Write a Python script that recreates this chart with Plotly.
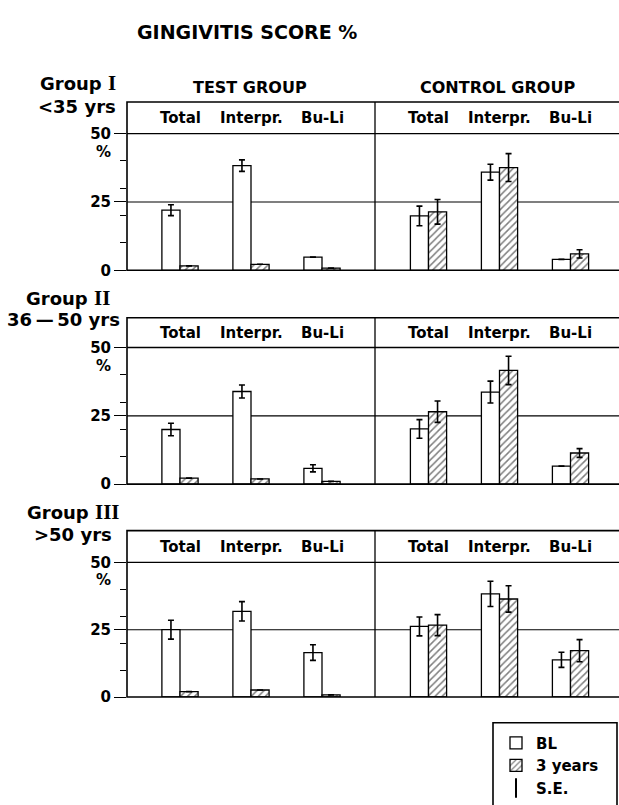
import plotly.graph_objects as go

W, H = 619, 805

# ---------------- data ----------------
categories = ["Total", "Interpr.", "Bu-Li"]
arm_names = ["TEST GROUP", "CONTROL GROUP"]
roman = ["I", "II", "III"]
age_names = ["&lt;35 yrs", "36\u2009\u2014\u200950 yrs", "&gt;50 yrs"]
major_ticks = [0, 25, 50]
minor_ticks = [10, 20, 30, 40]

# order per panel: test Total, test Interpr., test Bu-Li, control Total, control Interpr., control Bu-Li
bl_g1 = [22.0, 38.3, 4.8, 19.9, 35.9, 4.0]
bl_se_g1 = [2.0, 2.1, None, 3.6, 2.9, None]
y3_g1 = [1.6, 2.2, 0.8, 21.4, 37.6, 6.0]
y3_se_g1 = [None, None, None, 4.5, 5.1, 1.5]

bl_g2 = [20.0, 33.9, 5.8, 20.2, 33.7, 6.6]
bl_se_g2 = [2.3, 2.4, 1.3, 3.4, 4.0, None]
y3_g2 = [2.2, 1.9, 1.0, 26.5, 41.6, 11.4]
y3_se_g2 = [None, None, None, 3.9, 5.2, 1.6]

bl_g3 = [25.0, 31.8, 16.5, 26.2, 38.3, 13.8]
bl_se_g3 = [3.5, 3.6, 2.9, 3.5, 4.7, 2.8]
y3_g3 = [2.0, 2.6, 0.8, 26.7, 36.4, 17.2]
y3_se_g3 = [None, None, None, 3.9, 4.9, 4.1]

bl_all = [bl_g1, bl_g2, bl_g3]
bl_se_all = [bl_se_g1, bl_se_g2, bl_se_g3]
y3_all = [y3_g1, y3_g2, y3_g3]
y3_se_all = [y3_se_g1, y3_se_g2, y3_se_g3]

# ---------------- layout geometry (pixels) ----------------
panel_px = [(103, 135, 273), (321, 351, 489), (536, 568, 704)]  # box top, 50-line, 0-line
x_left_px, x_right_px = 127, 619
arm_gap = 1.5
xpos = [i + (arm_gap - 1) * (i // 3) for i in range(6)]  # category slots
x_unit = 71.0
x_first_px = 180
xr = [(x_left_px - x_first_px) / x_unit, (x_right_px - x_first_px) / x_unit]
divider = (375 - x_first_px) / x_unit
bw = 0.255

FONT = "DejaVu Sans"
SERIF = "Liberation Serif"

fig = go.Figure()
for r in range(3):
    xa = "x" if r == 0 else f"x{r+1}"
    ya = "y" if r == 0 else f"y{r+1}"
    fig.add_trace(go.Bar(
        x=xpos, y=bl_all[r], width=bw, offset=-bw, xaxis=xa, yaxis=ya,
        name="BL", legendgroup="BL", showlegend=(r == 0),
        marker=dict(color="white", line=dict(color="black", width=1.3)),
        error_y=dict(type="data", array=bl_se_all[r], visible=True,
                     color="black", thickness=1.6, width=3),
    ))
    fig.add_trace(go.Bar(
        x=xpos, y=y3_all[r], width=bw, offset=0, xaxis=xa, yaxis=ya,
        name="3 years", legendgroup="3y", showlegend=(r == 0),
        marker=dict(color="white", line=dict(color="black", width=1.3),
                    pattern=dict(shape="/", fgcolor="black", bgcolor="white",
                                 size=5, solidity=0.3)),
        error_y=dict(type="data", array=y3_se_all[r], visible=True,
                     color="black", thickness=1.6, width=3),
    ))

fig.add_trace(go.Scatter(x=[None], y=[None], mode="markers", name="S.E.",
                         marker=dict(symbol="line-ns-open", size=14, color="black",
                                     line=dict(color="black", width=2))))

layout = dict(
    width=W, height=H, margin=dict(l=0, r=0, t=0, b=0),
    paper_bgcolor="white", plot_bgcolor="white",
    barmode="overlay",
    font=dict(family=FONT, color="black"),
    showlegend=True,
    legend=dict(x=496 / W, y=1 - 734 / H, xanchor="left", yanchor="top",
                bgcolor="rgba(0,0,0,0)", borderwidth=0,
                font=dict(size=15, family=FONT, color="black", weight="bold"),
                itemwidth=30, tracegroupgap=0),
)

shapes = []
annotations = []
for r in range(3):
    top, l50, bot = panel_px[r]
    ymax = 50 * (bot - top) / (bot - l50)
    xk = "xaxis" if r == 0 else f"xaxis{r+1}"
    yk = "yaxis" if r == 0 else f"yaxis{r+1}"
    xa = "x" if r == 0 else f"x{r+1}"
    ya = "y" if r == 0 else f"y{r+1}"
    layout[xk] = dict(domain=[x_left_px / W, x_right_px / W], range=xr,
                      showticklabels=False, ticks="", showgrid=False,
                      zeroline=False, showline=False, anchor=ya, fixedrange=True)
    layout[yk] = dict(domain=[1 - bot / H, 1 - top / H], range=[0, ymax],
                      tickmode="array", tickvals=major_ticks, ticks="outside",
                      ticklen=12, tickwidth=1.2, tickcolor="black",
                      tickfont=dict(size=15, family=FONT, color="black", weight="bold"),
                      minor=dict(tickmode="array", tickvals=minor_ticks, ticks="outside",
                                 ticklen=6, tickwidth=1.1, tickcolor="black", showgrid=False),
                      showgrid=False, zeroline=False, showline=False,
                      anchor=xa, fixedrange=True)
    # box (open on the right, it runs off the page)
    shapes.append(dict(type="path", xref=f"{xa} domain", yref=f"{ya} domain",
                       path="M 1.02 1 L 0 1 L 0 0 L 1.02 0",
                       line=dict(color="black", width=1.6), layer="above"))
    # divider between test and control
    shapes.append(dict(type="line", xref=xa, yref=f"{ya} domain", x0=divider, x1=divider,
                       y0=0, y1=1, line=dict(color="black", width=1.3)))
    # 50 and 25 reference lines
    for v, wdt in [(50, 1.4), (25, 1.1)]:
        shapes.append(dict(type="line", xref=f"{xa} domain", yref=ya, x0=0, x1=1.02,
                           y0=v, y1=v, line=dict(color="black", width=wdt), layer="below"))
    # header labels
    for i, c in enumerate(categories * 2):
        annotations.append(dict(x=xpos[i], y=(50 + ymax) / 2, xref=xa, yref=ya,
                                xanchor="center", yanchor="middle",
                                text=c, showarrow=False,
                                font=dict(size=15, family=FONT, weight="bold")))
    # % under 50
    annotations.append(dict(x=103 / W, y=50, xref="paper", yref=ya,
                            xanchor="center", yanchor="top",
                            yshift=-7, text="%", showarrow=False,
                            font=dict(size=15, family=FONT, weight="bold")))

# group labels (left)
group_label_px = [(84, 108), (301, 323), (517, 540)]
group_label_cx = [(78, 77), (68, 63), (73, 73)]
for r in range(3):
    gy, ay = group_label_px[r]
    gx, axx = group_label_cx[r]
    annotations.append(dict(x=gx / W, y=1 - gy / H, xref="paper", yref="paper",
                            xanchor="center", yanchor="middle",
                            text=("Group <span style='font-family:%s;font-size:21px'>%s</span>"
                                  % (SERIF, roman[r])),
                            showarrow=False,
                            font=dict(size=18, family=FONT, weight="bold")))
    annotations.append(dict(x=axx / W, y=1 - ay / H, xref="paper", yref="paper",
                            xanchor="center", yanchor="middle",
                            text=age_names[r], showarrow=False,
                            font=dict(size=18, family=FONT, weight="bold")))

# arm titles
for name, cx in zip(arm_names, [250, 497]):
    annotations.append(dict(x=cx / W, y=1 - 88 / H, xref="paper", yref="paper",
                            xanchor="center", yanchor="middle",
                            text=name, showarrow=False,
                            font=dict(size=16, family=FONT, weight="bold")))

# main title
annotations.append(dict(x=247 / W, y=1 - 32 / H, xref="paper", yref="paper",
                        xanchor="center", yanchor="middle",
                        text="GINGIVITIS SCORE %", showarrow=False,
                        font=dict(size=19, family=FONT, weight="bold")))

# legend frame (runs off the page to the right and bottom, as in the original)
shapes.append(dict(type="rect", xref="paper", yref="paper",
                   x0=493 / W, x1=617 / W, y0=1 - 830 / H, y1=1 - 730 / H,
                   line=dict(color="black", width=1.6), fillcolor="rgba(0,0,0,0)"))

layout["shapes"] = shapes
layout["annotations"] = annotations
fig.update_layout(**layout)
fig.write_html("out.html")
